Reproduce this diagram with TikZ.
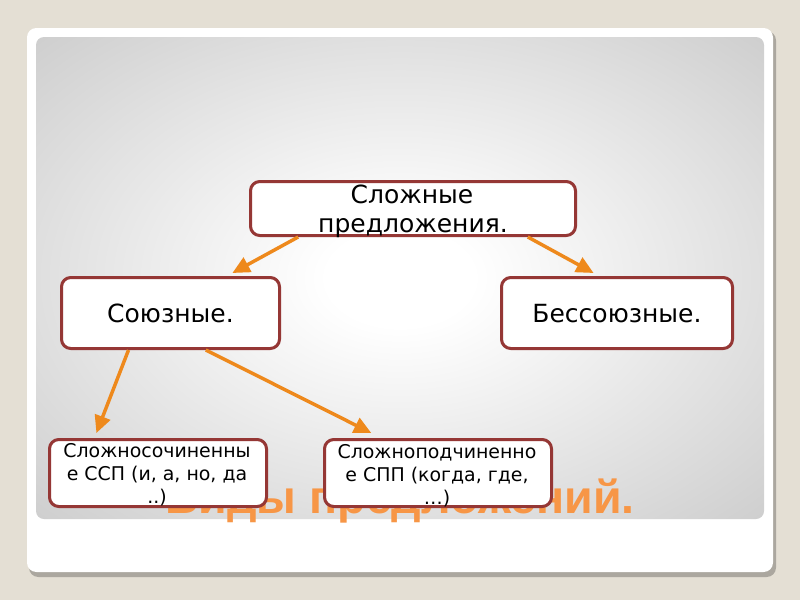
\documentclass[tikz,border=0pt]{standalone}
\usepackage{fontspec}
\setmainfont{DejaVu Sans}
\newfontfamily\titlefont{Liberation Sans}
\usetikzlibrary{arrows.meta,calc}
\definecolor{bg}{HTML}{E4DFD4}
\definecolor{boxred}{HTML}{953735}
\definecolor{arrowc}{HTML}{EE891C}
\definecolor{titleorange}{HTML}{F79646}
\pgfdeclareradialshading{panelshade}{\pgfpoint{0bp}{0bp}}{color(0bp)=(white); color(5bp)=(white); color(72bp)=(black!42)}
\tikzset{
  box/.style={draw=boxred, line width=2.25pt, fill=white, rounded corners=7pt, inner sep=0pt},
  bigtext/.style={font=\fontsize{18.75}{22}\selectfont, inner sep=0pt, anchor=base},
  smalltext/.style={font=\fontsize{14.2}{17}\selectfont, inner sep=0pt, anchor=base},
  titletext/.style={font=\titlefont\bfseries\fontsize{34.9}{40}\selectfont, text=titleorange, inner sep=0pt, anchor=base},
  arr/.style={draw=arrowc, line width=2.6pt, -{Triangle[length=13pt,width=12pt]}}
}
\begin{document}
\begin{tikzpicture}[x=0.75pt,y=-0.75pt]
\useasboundingbox (0,0) rectangle (800,600);
\fill[bg] (0,0) rectangle (800,600);
% card with shadow
\fill[black!25!bg, rounded corners=7pt] (29,31) rectangle (776,577);
\fill[white, rounded corners=7pt] (27,28) rectangle (773,572);
% gray panel
\shade[shading=panelshade, rounded corners=6pt] (36,37) rectangle (764,519);
% title (behind boxes)
\node[titletext] (title) at (400,513) {Виды предложений.};
% boxes
\node[box, minimum width=243.75pt, minimum height=40.5pt] (top) at (413,208.5) {};
\node[box, minimum width=163.5pt, minimum height=53.25pt] (sj) at (170.5,313) {};
\node[box, minimum width=173.25pt, minimum height=53.25pt] (bs) at (617,313) {};
\node[box, minimum width=162.75pt, minimum height=50.25pt] (ssp) at (158,473) {};
\node[box, minimum width=170.25pt, minimum height=50.25pt] (spp) at (438,473) {};
% texts
\node[bigtext] (topa) at (412,203) {Сложные};
\node[bigtext] (topb) at (413,232) {предложения.};
\node[bigtext] (sjt) at (170.5,322) {Союзные.};
\node[bigtext] (bst) at (617,322) {Бессоюзные.};
\node[smalltext] (sspa) at (157,457) {Сложносочиненны};
\node[smalltext] (sspb) at (157,480) {е ССП (и, а, но, да};
\node[smalltext] (sspc) at (157,503) {..)};
\node[smalltext] (sppa) at (437,458) {Сложноподчиненно};
\node[smalltext] (sppb) at (437,481) {е СПП (когда, где,};
\node[smalltext] (sppc) at (437,504) {…)};
% arrows
\draw[arr] ($(top.south west)!0.15!(top.south east)$) -- ($(sj.north west)!0.78!(sj.north east)+(0,-3)$);
\draw[arr] ($(top.south west)!0.85!(top.south east)$) -- ($(bs.north west)!0.40!(bs.north east)+(0,-3)$);
\draw[arr] ($(sj.south west)!0.31!(sj.south east)$) -- ($(ssp.north west)!0.22!(ssp.north east)+(0,-5)$);
\draw[arr] ($(sj.south west)!0.66!(sj.south east)$) -- ($(spp.north west)!0.21!(spp.north east)+(0,-5)$);
\end{tikzpicture}
\end{document}
